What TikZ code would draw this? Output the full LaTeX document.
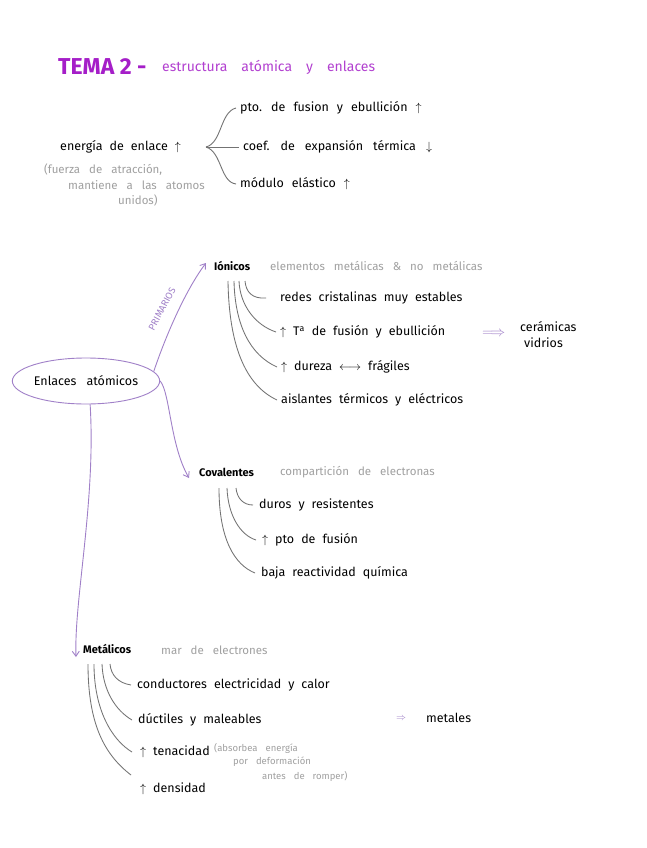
\documentclass[tikz,border=0pt]{standalone}
\usepackage{fontspec}
\setmainfont{Fira Sans}
\usetikzlibrary{arrows.meta,shapes.geometric}
\definecolor{ttl}{RGB}{165,30,200}
\definecolor{lav}{RGB}{160,128,200}
\definecolor{gry}{RGB}{160,160,160}
\definecolor{lgr}{RGB}{115,115,115}
\newlength{\wsp}
\tikzset{
  ws/.style={execute at begin node={\setlength{\wsp}{#1}\spaceskip=\wsp\relax}},
  txt/.style={anchor=west,inner sep=0pt,font=\fontsize{12.5}{14}\selectfont,ws=7pt,text=black},
  note/.style={anchor=west,inner sep=0pt,font=\fontsize{11.5}{13}\selectfont,ws=9pt,text=gry},
  head/.style={anchor=west,inner sep=0pt,font=\fontsize{11}{13}\selectfont\bfseries,text=black},
  tiny/.style={anchor=west,inner sep=0pt,font=\fontsize{9.5}{11}\selectfont,ws=8pt,text=gry},
  brace/.style={draw=lgr,line width=0.9pt},
  sub/.style={draw=lgr,line width=0.85pt},
  parr/.style={draw=lav,line width=0.9pt,-{Straight Barb[length=5pt,width=7pt]}},
}
\begin{document}
\begin{tikzpicture}[x=1pt,y=-1pt]
\useasboundingbox (0,0) rectangle (646,848);
\fill[white] (0,0) rectangle (646,848);
% title
\node[anchor=west,inner sep=0pt,font=\fontsize{23}{26}\selectfont\bfseries,text=ttl] (tema) at (58,67) {TEMA 2 -};
\node[anchor=west,inner sep=0pt,font=\fontsize{14}{16}\selectfont,ws=14pt,text=ttl!85] (sub) at (162,67) {estructura atómica y enlaces};
% energia
\node[txt] (eng) at (60,147) {energía de enlace $\uparrow$};
\node[note] (f1) at (44,170) {(fuerza de atracción,};
\node[note] (f2) at (68,185) {mantiene a las atomos};
\node[note] (f3) at (118,200) {unidos)};
\node[txt,ws=8pt] (pto) at (240,108) {pto. de fusion y ebullición $\uparrow$};
\node[txt,ws=10pt] (coef) at (243,147) {coef. de expansión térmica $\downarrow$};
\node[txt,ws=8pt] (mod) at (240,184) {módulo elástico $\uparrow$};
\coordinate (bs) at (206,147);
\draw[brace] (bs) .. controls (222,143) and (220,112) .. ([xshift=-4pt]pto.west);
\draw[brace] (bs) -- ([xshift=-4pt]coef.west);
\draw[brace] (bs) .. controls (222,152) and (220,182) .. ([xshift=-4pt]mod.west);
% ellipse
\node[draw=lav,line width=0.9pt,ellipse,minimum width=136pt,minimum height=46pt,inner sep=0pt,font=\fontsize{12.5}{14}\selectfont,ws=10pt] (enl) at (86,381) {Enlaces atómicos};
% Ionicos
\node[head] (ion) at (214,266) {Iónicos};
\node[note] (ionn) at (270,266) {elementos metálicas \& no metálicas};
\node[txt] (i1) at (280,298) {redes cristalinas muy estables};
\node[txt] (i2) at (280,332) {$\uparrow$ T\textsuperscript{a} de fusión y ebullición};
\node[txt] (i3) at (281,367) {$\uparrow$ dureza $\longleftrightarrow$ frágiles};
\node[txt] (i4) at (281,400) {aislantes térmicos y eléctricos};
\node[anchor=west,inner sep=0pt,text=lav,font=\fontsize{14}{14}\selectfont] (imp1) at (482,334) {$\Longrightarrow$};
\node[txt] (cer) at (520,327) {cerámicas};
\node[txt] (vid) at (524,343) {vidrios};
\draw[sub] (245,281) .. controls (246,292) and (252,299) .. ([xshift=-14pt]i1.west);
\draw[sub] (239,281) .. controls (240,305) and (255,325) .. ([xshift=-4pt]i2.west);
\draw[sub] (234,281) .. controls (235,325) and (250,355) .. ([xshift=-4pt]i3.west);
\draw[sub] (228,281) .. controls (229,345) and (245,385) .. ([xshift=-4pt]i4.west);
% Covalentes
\node[head] (cov) at (199,472) {Covalentes};
\node[note] (covn) at (280,472) {compartición de electronas};
\node[txt] (c1) at (259,505) {duros y resistentes};
\node[txt] (c2) at (262,540) {$\uparrow$ pto de fusión};
\node[txt] (c3) at (261,573) {baja reactividad química};
\draw[sub] (236,488) .. controls (237,498) and (243,505) .. ([xshift=-6pt]c1.west);
\draw[sub] (227,488) .. controls (228,515) and (240,535) .. ([xshift=-6pt]c2.west);
\draw[sub] (219,488) .. controls (219,540) and (235,565) .. ([xshift=-6pt]c3.west);
% Metalicos
\node[head] (met) at (83,649) {Metálicos};
\node[note] (metn) at (161,650) {mar de electrones};
\node[txt] (m1) at (137,685) {conductores electricidad y calor};
\node[txt] (m2) at (138,720) {dúctiles y maleables};
\node[txt] (m3) at (140,752) {$\uparrow$ tenacidad};
\node[txt] (m4) at (140,789) {$\uparrow$ densidad};
\node[tiny] (t1) at (214,748) {(absorbea energía};
\node[tiny] (t2) at (233,762) {por deformación};
\node[tiny] (t3) at (262,776) {antes de romper)};
\node[anchor=west,inner sep=0pt,text=lav,font=\fontsize{10}{10}\selectfont] (imp2) at (396,719) {$\Rightarrow$};
\node[txt] (mtl) at (426,718) {metales};
\draw[sub] (110,664) .. controls (111,675) and (118,683) .. ([xshift=-6pt]m1.west);
\draw[sub] (102,664) .. controls (103,690) and (115,710) .. ([xshift=-6pt]m2.west);
\draw[sub] (94,664) .. controls (94,710) and (112,740) .. ([xshift=-8pt]m3.west);
\draw[sub] (88,664) .. controls (88,725) and (105,755) .. (131,775);
% main arrows
\draw[parr] (enl.8) .. controls (167,332) and (187,288) .. ([xshift=-8pt,yshift=3pt]ion.west);
\node[inner sep=0pt,text=lav,font=\fontsize{9.5}{10}\selectfont,rotate=62] (prim) at (162,309) {PRIMARIOS};
\draw[parr] (enl.east) .. controls (170,392) and (170,445) .. ([xshift=-10pt,yshift=-6pt]cov.west);
\draw[parr] (enl.-80) .. controls (96,500) and (74,600) .. ([xshift=-7pt,yshift=-8pt]met.west);
\end{tikzpicture}
\end{document}
